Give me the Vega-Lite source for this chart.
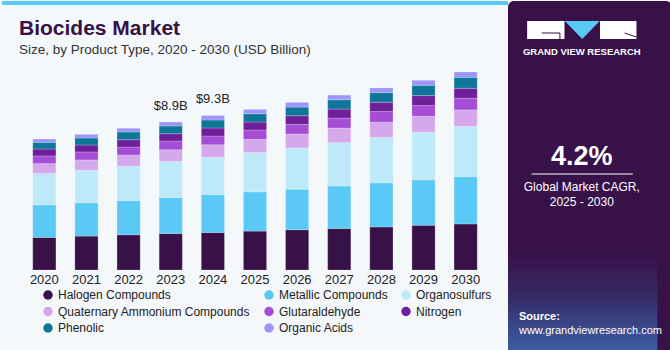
{
  "$schema": "https://vega.github.io/schema/vega-lite/v6.json",
  "padding": 0,
  "spacing": 0,
  "bounds": "flush",
  "background": "#F4F8FB",
  "resolve": {"legend": {"color": "independent"}, "scale": {"color": "independent"}},
  "config": {"view": {"stroke": null}, "font": "Liberation Sans"},
  "datasets": {
    "bars": [
      {"year": "2020", "type": "Halogen Compounds", "value": 1.96},
      {"year": "2020", "type": "Metallic Compounds", "value": 1.96},
      {"year": "2020", "type": "Organosulfurs", "value": 1.88},
      {"year": "2020", "type": "Quaternary Ammonium Compounds", "value": 0.60},
      {"year": "2020", "type": "Glutaraldehyde", "value": 0.46},
      {"year": "2020", "type": "Nitrogen", "value": 0.42},
      {"year": "2020", "type": "Phenolic", "value": 0.40},
      {"year": "2020", "type": "Organic Acids", "value": 0.20},
      {"year": "2021", "type": "Halogen Compounds", "value": 2.04},
      {"year": "2021", "type": "Metallic Compounds", "value": 2.00},
      {"year": "2021", "type": "Organosulfurs", "value": 1.96},
      {"year": "2021", "type": "Quaternary Ammonium Compounds", "value": 0.62},
      {"year": "2021", "type": "Glutaraldehyde", "value": 0.48},
      {"year": "2021", "type": "Nitrogen", "value": 0.42},
      {"year": "2021", "type": "Phenolic", "value": 0.42},
      {"year": "2021", "type": "Organic Acids", "value": 0.22},
      {"year": "2022", "type": "Halogen Compounds", "value": 2.12},
      {"year": "2022", "type": "Metallic Compounds", "value": 2.06},
      {"year": "2022", "type": "Organosulfurs", "value": 2.06},
      {"year": "2022", "type": "Quaternary Ammonium Compounds", "value": 0.68},
      {"year": "2022", "type": "Glutaraldehyde", "value": 0.48},
      {"year": "2022", "type": "Nitrogen", "value": 0.44},
      {"year": "2022", "type": "Phenolic", "value": 0.46},
      {"year": "2022", "type": "Organic Acids", "value": 0.22},
      {"year": "2023", "type": "Halogen Compounds", "value": 2.20},
      {"year": "2023", "type": "Metallic Compounds", "value": 2.16},
      {"year": "2023", "type": "Organosulfurs", "value": 2.16},
      {"year": "2023", "type": "Quaternary Ammonium Compounds", "value": 0.72},
      {"year": "2023", "type": "Glutaraldehyde", "value": 0.52},
      {"year": "2023", "type": "Nitrogen", "value": 0.44},
      {"year": "2023", "type": "Phenolic", "value": 0.46},
      {"year": "2023", "type": "Organic Acids", "value": 0.24},
      {"year": "2024", "type": "Halogen Compounds", "value": 2.26},
      {"year": "2024", "type": "Metallic Compounds", "value": 2.28},
      {"year": "2024", "type": "Organosulfurs", "value": 2.24},
      {"year": "2024", "type": "Quaternary Ammonium Compounds", "value": 0.76},
      {"year": "2024", "type": "Glutaraldehyde", "value": 0.52},
      {"year": "2024", "type": "Nitrogen", "value": 0.48},
      {"year": "2024", "type": "Phenolic", "value": 0.48},
      {"year": "2024", "type": "Organic Acids", "value": 0.28},
      {"year": "2025", "type": "Halogen Compounds", "value": 2.34},
      {"year": "2025", "type": "Metallic Compounds", "value": 2.36},
      {"year": "2025", "type": "Organosulfurs", "value": 2.36},
      {"year": "2025", "type": "Quaternary Ammonium Compounds", "value": 0.80},
      {"year": "2025", "type": "Glutaraldehyde", "value": 0.56},
      {"year": "2025", "type": "Nitrogen", "value": 0.48},
      {"year": "2025", "type": "Phenolic", "value": 0.50},
      {"year": "2025", "type": "Organic Acids", "value": 0.26},
      {"year": "2026", "type": "Halogen Compounds", "value": 2.42},
      {"year": "2026", "type": "Metallic Compounds", "value": 2.44},
      {"year": "2026", "type": "Organosulfurs", "value": 2.48},
      {"year": "2026", "type": "Quaternary Ammonium Compounds", "value": 0.84},
      {"year": "2026", "type": "Glutaraldehyde", "value": 0.58},
      {"year": "2026", "type": "Nitrogen", "value": 0.52},
      {"year": "2026", "type": "Phenolic", "value": 0.52},
      {"year": "2026", "type": "Organic Acids", "value": 0.28},
      {"year": "2027", "type": "Halogen Compounds", "value": 2.50},
      {"year": "2027", "type": "Metallic Compounds", "value": 2.55},
      {"year": "2027", "type": "Organosulfurs", "value": 2.61},
      {"year": "2027", "type": "Quaternary Ammonium Compounds", "value": 0.88},
      {"year": "2027", "type": "Glutaraldehyde", "value": 0.60},
      {"year": "2027", "type": "Nitrogen", "value": 0.54},
      {"year": "2027", "type": "Phenolic", "value": 0.56},
      {"year": "2027", "type": "Organic Acids", "value": 0.28},
      {"year": "2028", "type": "Halogen Compounds", "value": 2.59},
      {"year": "2028", "type": "Metallic Compounds", "value": 2.65},
      {"year": "2028", "type": "Organosulfurs", "value": 2.73},
      {"year": "2028", "type": "Quaternary Ammonium Compounds", "value": 0.92},
      {"year": "2028", "type": "Glutaraldehyde", "value": 0.64},
      {"year": "2028", "type": "Nitrogen", "value": 0.56},
      {"year": "2028", "type": "Phenolic", "value": 0.58},
      {"year": "2028", "type": "Organic Acids", "value": 0.28},
      {"year": "2029", "type": "Halogen Compounds", "value": 2.69},
      {"year": "2029", "type": "Metallic Compounds", "value": 2.73},
      {"year": "2029", "type": "Organosulfurs", "value": 2.87},
      {"year": "2029", "type": "Quaternary Ammonium Compounds", "value": 0.96},
      {"year": "2029", "type": "Glutaraldehyde", "value": 0.64},
      {"year": "2029", "type": "Nitrogen", "value": 0.60},
      {"year": "2029", "type": "Phenolic", "value": 0.62},
      {"year": "2029", "type": "Organic Acids", "value": 0.30},
      {"year": "2030", "type": "Halogen Compounds", "value": 2.77},
      {"year": "2030", "type": "Metallic Compounds", "value": 2.85},
      {"year": "2030", "type": "Organosulfurs", "value": 3.01},
      {"year": "2030", "type": "Quaternary Ammonium Compounds", "value": 1.00},
      {"year": "2030", "type": "Glutaraldehyde", "value": 0.70},
      {"year": "2030", "type": "Nitrogen", "value": 0.60},
      {"year": "2030", "type": "Phenolic", "value": 0.66},
      {"year": "2030", "type": "Organic Acids", "value": 0.32}
    ],
    "totals": [
      {"year": "2023", "total": 8.9, "label": "$8.9B"},
      {"year": "2024", "total": 9.3, "label": "$9.3B"}
    ]
  },
  "hconcat": [
    {
      "width": 506,
      "height": 269,
      "title": {
        "text": "Biocides Market",
        "subtitle": "Size, by Product Type, 2020 - 2030 (USD Billion)",
        "anchor": "start",
        "frame": "group",
        "offset": -56,
        "dx": 17,
        "fontSize": 21,
        "fontWeight": 900,
        "color": "#371148",
        "subtitleFontSize": 13.5,
        "subtitleColor": "#333333",
        "subtitlePadding": 4
      },
      "layer": [
        {
          "data": {"values": [{}]},
          "mark": {"type": "rule", "color": "#5BC9F5", "strokeWidth": 4},
          "encoding": {"y": {"datum": 16.06, "scale": {"domain": [0, 16.18], "nice": false, "zero": true}, "axis": null}}
        },
        {
          "data": {"name": "bars"},
          "transform": [
            {"calculate": "indexof(['Halogen Compounds','Metallic Compounds','Organosulfurs','Quaternary Ammonium Compounds','Glutaraldehyde','Nitrogen','Phenolic','Organic Acids'], datum.type)", "as": "stackOrder"}
          ],
          "mark": {"type": "bar", "stroke": "#ffffff", "strokeWidth": 0.6, "strokeOpacity": 0.35},
          "encoding": {
            "x": {
              "field": "year", "type": "ordinal",
              "scale": {"paddingInner": 0.45, "paddingOuter": 0.73},
              "axis": {"title": null, "labelAngle": 0, "domain": false, "ticks": false, "labelFontSize": 13, "labelColor": "#222222", "labelPadding": 3}
            },
            "y": {"field": "value", "type": "quantitative", "stack": "zero", "axis": null},
            "color": {
              "field": "type", "type": "nominal",
              "scale": {
                "domain": ["Halogen Compounds", "Metallic Compounds", "Organosulfurs", "Quaternary Ammonium Compounds", "Glutaraldehyde", "Nitrogen", "Phenolic", "Organic Acids"],
                "range": ["#371148", "#5BC9F5", "#BDE9F9", "#D5A8EC", "#A64DD6", "#6F1F9A", "#0E7799", "#9C96FA"]
              },
              "legend": {
                "title": null, "orient": "none", "legendX": 40, "legendY": 288, "direction": "horizontal", "columns": 3,
                "symbolType": "circle", "symbolSize": 90, "symbolStrokeWidth": 0, "labelLimit": 0,
                "labelFontSize": 12, "labelColor": "#222222", "rowPadding": 4.5, "columnPadding": 12
              }
            },
            "order": {"field": "stackOrder", "type": "quantitative", "sort": "ascending"}
          }
        },
        {
          "data": {"name": "totals"},
          "mark": {"type": "text", "fontSize": 13, "color": "#222222", "dy": -16, "baseline": "middle"},
          "encoding": {
            "x": {"field": "year", "type": "ordinal"},
            "y": {"field": "total", "type": "quantitative"},
            "text": {"field": "label"}
          }
        }
      ]
    },
    {
      "width": 164,
      "height": 350,
      "view": {"fill": "#371148", "stroke": null, "cornerRadius": 6},
      "data": {"values": [{}]},
      "layer": [
        {
          "mark": {"type": "rect", "color": {"gradient": "linear", "x1": 0, "y1": 0, "x2": 0, "y2": 1, "stops": [{"offset": 0, "color": "#371148"}, {"offset": 0.45, "color": "#372a66"}, {"offset": 1, "color": "#3B5FA5"}]}},
          "encoding": {
            "x": {"datum": 0, "scale": {"domain": [0, 164]}, "axis": null},
            "x2": {"datum": 164},
            "y": {"datum": 250, "scale": {"domain": [0, 350], "reverse": true}, "axis": null},
            "y2": {"datum": 350}
          }
        },
        {
          "mark": {"type": "rect", "color": "#ffffff"},
          "encoding": {"x": {"datum": 21}, "x2": {"datum": 62}, "y": {"datum": 20}, "y2": {"datum": 38}}
        },
        {
          "mark": {"type": "rect", "color": "#ffffff"},
          "encoding": {"x": {"datum": 101}, "x2": {"datum": 141}, "y": {"datum": 20}, "y2": {"datum": 38}}
        },
        {
          "mark": {"type": "rule", "color": "#371148", "strokeWidth": 1},
          "encoding": {"x": {"datum": 37}, "x2": {"datum": 57}, "y": {"datum": 32}, "y2": {"datum": 32}}
        },
        {
          "mark": {"type": "rule", "color": "#371148", "strokeWidth": 1},
          "encoding": {"x": {"datum": 57}, "x2": {"datum": 57}, "y": {"datum": 32}, "y2": {"datum": 38}}
        },
        {
          "mark": {"type": "rule", "color": "#371148", "strokeWidth": 1},
          "encoding": {"x": {"datum": 128}, "x2": {"datum": 141}, "y": {"datum": 32}, "y2": {"datum": 36}}
        },
        {
          "mark": {"type": "point", "shape": "M-1,-0.52L1,-0.52L0,0.52Z", "filled": true, "color": "#5BC9F5", "size": 1225, "opacity": 1},
          "encoding": {"x": {"datum": 81.5}, "y": {"datum": 29}}
        },
        {
          "mark": {"type": "text", "text": "GRAND VIEW RESEARCH", "color": "#ffffff", "fontSize": 9.5, "fontWeight": "bold", "align": "center", "baseline": "middle"},
          "encoding": {"x": {"datum": 81}, "y": {"datum": 51}}
        },
        {
          "mark": {"type": "text", "text": "4.2%", "color": "#ffffff", "fontSize": 27, "fontWeight": "bold", "align": "center", "baseline": "middle"},
          "encoding": {"x": {"datum": 81}, "y": {"datum": 156}}
        },
        {
          "mark": {"type": "rule", "color": "#ffffff", "strokeWidth": 1},
          "encoding": {"x": {"datum": 26}, "x2": {"datum": 137}, "y": {"datum": 173}, "y2": {"datum": 173}}
        },
        {
          "mark": {"type": "text", "text": "Global Market CAGR,", "color": "#ffffff", "fontSize": 12, "align": "center", "baseline": "middle"},
          "encoding": {"x": {"datum": 81}, "y": {"datum": 186}}
        },
        {
          "mark": {"type": "text", "text": "2025 - 2030", "color": "#ffffff", "fontSize": 12, "align": "center", "baseline": "middle"},
          "encoding": {"x": {"datum": 81}, "y": {"datum": 201}}
        },
        {
          "mark": {"type": "text", "text": "Source:", "color": "#ffffff", "fontSize": 11, "fontWeight": "bold", "align": "left", "baseline": "middle"},
          "encoding": {"x": {"datum": 12}, "y": {"datum": 316}}
        },
        {
          "mark": {"type": "text", "text": "www.grandviewresearch.com", "color": "#ffffff", "fontSize": 11, "align": "left", "baseline": "middle"},
          "encoding": {"x": {"datum": 12}, "y": {"datum": 330}}
        }
      ]
    }
  ]
}
